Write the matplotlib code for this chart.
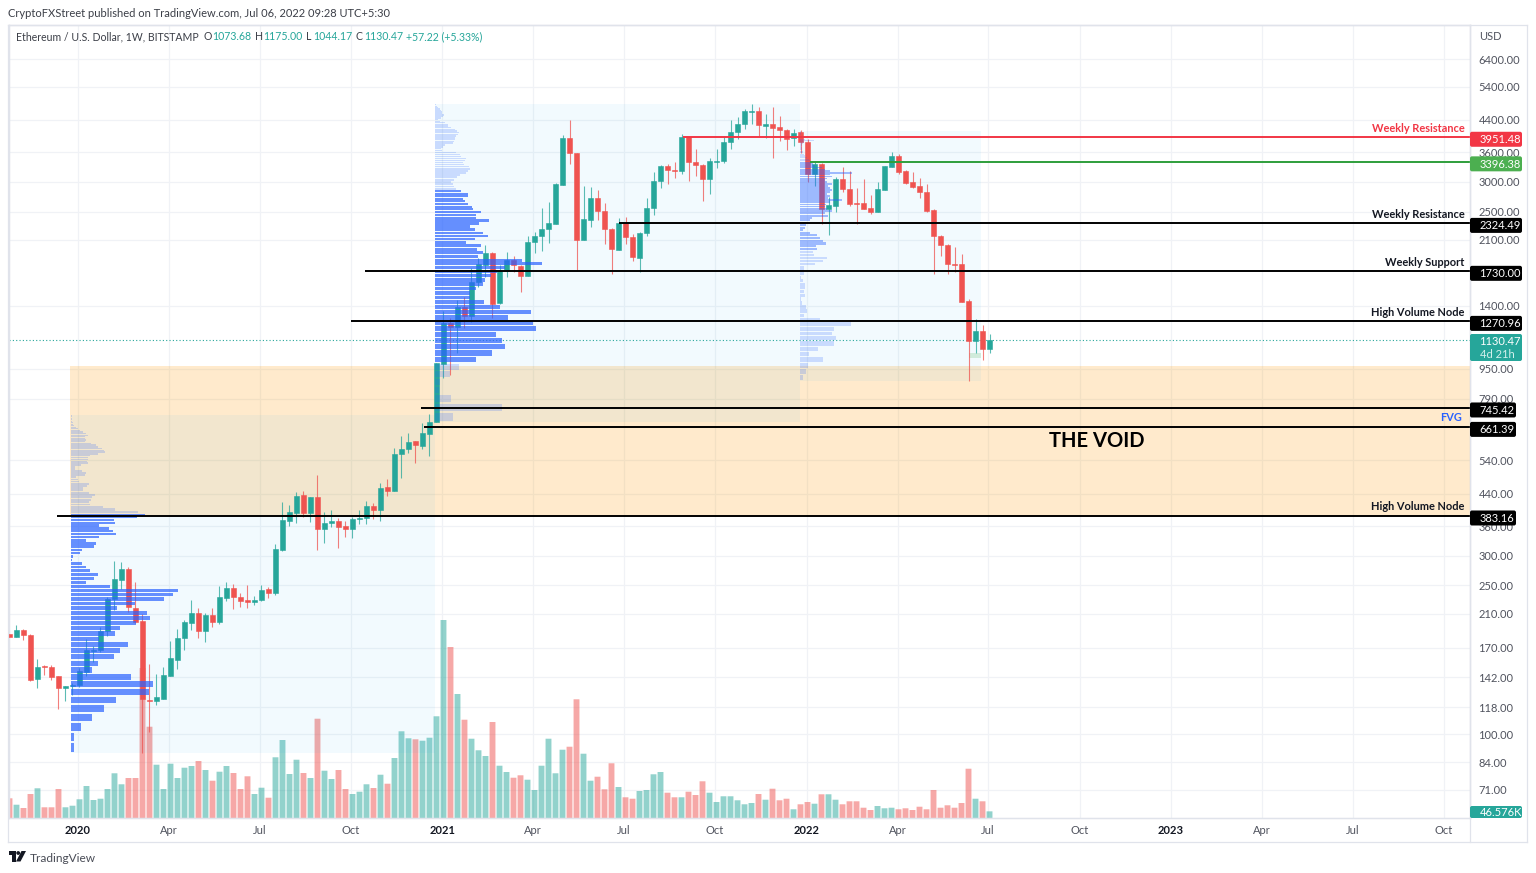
import numpy as np
import matplotlib
matplotlib.use('Agg')
import matplotlib.pyplot as plt
from matplotlib.patches import FancyBboxPatch, Rectangle, Circle, Polygon
from matplotlib.lines import Line2D
from matplotlib.ticker import NullLocator
from matplotlib.transforms import IdentityTransform

plt.rcParams['font.family'] = ['Lato', 'DejaVu Sans']

# weekly candles, ETH/USD
opens = [185,182,189.6,184.2,140.5,152.3,151.1,142.9,132.4,134.6,
         135.2,146.8,166.7,167.7,188.5,229.7,258,276,217,200.3,
         123.4,122.6,124.3,143.2,158,180.3,198.6,211,188.5,208,
         199.8,231,246,232.5,228,225.3,227.7,244,238.7,310.6,
         372.4,391,435.5,391,431,353,368,371.7,360,354,
         375,378.5,408,398,457.5,448,562,578,607,588.5,
         636,685.6,980,1261,1230,1389,1312,1621,1800,1941,
         1421,1738,1853,1783,1682,2073,2147,2243,2322,2946,
         3941,3587,2103,2375,2718,2515,2246,1979,2331,2138,
         1879,2191,2560,3020,3318,3237,3212,3950,3400,3333,
         3053,3400,3415,3833,4090,4289,4615,4650,4245,4297,
         4211,4132,3935,4075,3833,3152,3352,2540,2588,3056,
         2880,2636,2632,2555,2500,2857,3298,3522,3215,2995,
         2928,2827,2530,2155,2040,1815,1808,1439,1128,1200,
         1073.68]
highs = [185.5,195.4,190.8,185,158.4,152.9,152.7,142.9,134.6,136.6,
         149.9,179.5,172.2,193.7,232,290,288.5,279,254.5,209.3,
         153.9,144.7,151.1,177.3,190.8,202,228,217.1,211,217.1,
         248.7,254.5,251.3,238.3,250.3,233.9,250.3,247.6,321.5,418,
         409.5,445.2,447,431,492,392.8,397.5,377.8,371.7,381.6,
         397.5,421.5,414,470.7,480.7,582,627,639,608,681.4,
         719,985,1354,1294,1448,1477,1763,1876,2035,1945,
         1800,1946,1899,1800,2155,2208,2552,2653,2988,4008,
         4398,3590,2928,2905,2857,2640,2256,2410,2425,2174,
         2208,2710,3190,3333,3346,3388,4025,3955,3676,3352,
         3483,3676,3965,4398,4470,4690,4860,4755,4561,4755,
         4500,4158,4158,4132,3910,3415,3372,2740,3100,3290,
         3212,2887,3056,2770,2995,3310,3603,3558,3223,3185,
         3070,2964,2535,2160,2045,2015,1926,1462,1289,1243,
         1175]
lows = [182,181.3,178.4,138.3,132.4,143.8,139.7,116.8,122.6,127.1,
        133.8,143.2,156.1,166,182.7,214.5,244,212.3,197.9,88.8,
        101.4,119.6,124.1,143,149,167.7,189.6,180.7,176.5,193,
        197.4,226.3,215.4,218.1,217,221.2,226.3,231,235.3,309,
        361.2,368,381.6,370.3,310.6,324,357.5,314,336,334.6,
        364.3,365.7,376.7,372.4,434.4,447,483,564.4,532.3,578,
        553,683,896,914,1048.5,1221,1269,1575,1675,1300,
        1415,1675,1721,1526,1680,1938,1955,2061,2315,2940,
        3346,1738,2096,2280,2375,2048,1703,1968,2048,1848,
        1728,2155,2450,2896,2964,3070,3158,3020,3120,2665,
        2792,3278,3372,3680,3910,4165,4289,3975,3935,3477,
        3850,3654,3755,3594,2995,2928,2312,2165,2490,2827,
        2580,2312,2535,2460,2495,2853,3285,3158,2964,2887,
        2725,2500,1703,1906,1703,1728,1430,882,1045,1003,
        1044.17]
closes = [182,189.6,183.9,139.4,151.4,151.1,142.3,132.4,134.6,135.4,
          147.4,167.4,167.9,188.5,229.7,260,276,218.1,199.8,123.8,
          122.6,125.3,143.8,159.3,180.6,199.5,211,188.5,208,199.8,
          232.5,246,232.1,227.2,225.3,228,243.3,238.7,312,374,
          392.8,434.4,390,431,353,368,371.7,358.3,353,376,
          379.5,407,397.5,456.4,448,563,580,605.6,592,639,
          684.4,982,1261,1230,1389,1312,1624,1808,1941,1415,
          1735,1853,1797,1682,2077,2151,2246,2327,2960,3941,
          3580,2096,2393,2718,2510,2243,1986,2327,2134,1890,
          2195,2560,3013,3318,3231,3212,3950,3393,3325,3062,
          3415,3420,3840,4090,4289,4635,4650,4262,4289,4185,
          4124,3917,4065,3833,3158,3352,2540,2597,3056,2870,
          2615,2615,2540,2500,2870,3305,3522,3190,2982,2915,
          2822,2515,2147,2040,1811,1800,1433,1128,1200,1073,
          1130.47]
# volume, thousands of ETH
volumes = [138,93,70,168,208,75,75,203,75,86,
           131,224,126,135,203,313,236,280,280,1050,
           639,373,203,380,280,352,364,399,336,261,
           324,364,315,203,292,168,212,142,425,546,
           308,408,315,280,695,331,273,336,203,168,
           184,236,210,303,240,420,607,558,551,541,
           562,712,1386,1197,868,688,555,474,434,672,
           366,322,282,299,268,196,366,555,313,478,
           499,831,450,261,289,201,383,217,145,135,
           189,196,306,322,177,145,145,184,161,257,
           177,112,152,152,124,96,105,168,128,205,
           124,135,61,96,112,100,166,166,128,96,
           117,117,72,56,84,68,72,61,68,56,
           79,61,196,72,89,72,105,345,135,117,
           46.576]

# volume profile rows, bottom to top, equal price steps
vp_a = [3,3,10,21,33,45,78,82,60,21,27,43,49,57,28,44,49,65,79,76,
        46,64,93,102,107,39,15,23,27,19,15,11,1,2,9,11,23,25,15,28,
        45,42,38,28,44,43,66,74,67,44,32,19,18,20,21,24,18,12,12,16,
        18,8,7,5,14,15,11,4,4,10,17,16,17,17,19,27,34,33,31,27,
        25,20,14,15,14,14,17,15,12,9,7,5,3,2,2,1,1,1,1,1]
vp_b = [18,67,16,4,5,15,24,
        41,57,70,67,61,101,98,73,96,65,49,35,35,41,48,50,56,62,70,107,
        87,43,48,42,46,31,40,53,48,40,35,44,54,41,41,46,38,37,33,30,28,33,33,26,
        21,19,18,16,19,22,25,31,33,35,34,29,28,30,31,26,25,21,7,6,8,10,18,19,
        20,20,21,23,24,22,20,16,13,13,10,5,3,6,8,9,7,7,6,5,3,2,1]
vp_c = [3,6,8,23,9,18,34,36,32,34,51,20,4,7,6,2,1,5,4,5,5,3,1,4,4,4,15,23,27,14,13,
        17,16,26,23,20,17,10,3,5,6,8,10,12,
        28,25,32,27,25,26,30,42,28,30,27,30,32,30,28,32,27,25,27,32,30,52,30,25,22,15,13,12,
        10,9,7,5,4,3,3,2,2,1,2,3,4,14,5,2,1,1,1,1]
# profile range: low price, high price, first week, last week, value area rows, value area alpha
vp_ranges = [(88.8, 715, 8.8, 60.8, 0, 48, 0.7),
             (685, 4851, 60.8, 112.9, 7, 51, 0.7),
             (882, 4100, 112.9, 138.8, 31, 72, 0.42)]

void_top = 965
level_prices = [3951.48, 3396.38, 2324.49, 1730.00, 1270.96, 745.42, 661.39, 383.16]
level_labels = ['3951.48', '3396.38', '2324.49', '1730.00', '1270.96', '745.42', '661.39', '383.16']
level_starts = [96.2, 114.4, 87, 50.8, 48.8, 58.8, 59.2, 6.8]
level_colors = ['#f23645', '#2e9e3b', 'black', 'black', 'black', 'black', 'black', 'black']
tag_colors = ['#f23645', '#4caf50', 'black', 'black', 'black', 'black', 'black', 'black']

price_ticks = [6400,5400,4400,3600,3000,2500,2100,1400,950,790,540,440,360,300,250,210,170,142,118,100,84,71]
time_ticks = [9.8,22.8,35.8,48.8,61.8,74.8,87.8,100.8,113.9,126.9,139.8,152.9,165.9,178.9,191.9,204.9]
time_labels = ['2020','Apr','Jul','Oct','2021','Apr','Jul','Oct','2022','Apr','Jul','Oct','2023','Apr','Jul','Oct']

up_col = '#26a69a'
down_col = '#ef5350'
price_lo, price_hi = 59.6, 7892
W, H = 1536, 873

fig = plt.figure(figsize=(W/100, H/100), dpi=100, facecolor='white')
rect = [9/W, (H-818)/H, 1461/W, 793/H]

# volume sits under the price axes
ax_vol = fig.add_axes(rect)
ax = fig.add_axes(rect, sharex=ax_vol)
ax.patch.set_visible(False)

x = np.arange(len(closes))
o, h, l, c = map(np.array, (opens, highs, lows, closes))
up = c >= o
cols = np.where(up, up_col, down_col)

bars = ax_vol.bar(x, volumes, width=0.84, color=cols, alpha=0.5, linewidth=0, zorder=2)
for b in bars:
    b.set_snap(False)
ax_vol.set_ylim(0, 793*7)
ax_vol.set_yticks([])
ax_vol.tick_params(bottom=False, labelbottom=False)

ax.set_yscale('log')
ax.set_ylim(price_lo, price_hi)
ax.set_xlim(-0.07, 208.64)
xmax = ax.get_xlim()[1]

# shaded zones
ax.add_patch(Rectangle((8.65, 383.16), xmax-8.65, void_top-383.16, fc='#ff9800', alpha=0.2, lw=0, zorder=1))
for low, high, x0, x1, va0, va1, va_alpha in vp_ranges:
    ax.add_patch(Rectangle((x0, low), x1-x0, high-low, fc='#03a9f4', alpha=0.05, lw=0, zorder=1.5))
ax.add_patch(Rectangle((137, 1015), 1.8, 32, fc='#4caf50', alpha=0.2, lw=0, zorder=1.6))

# candles
ax.vlines(x, l, h, colors=cols, lw=0.8, alpha=0.75, zorder=3)
ax.bar(x, np.abs(c-o), bottom=np.minimum(o, c), width=0.76, color=cols,
       edgecolor=cols, linewidth=0.4, zorder=3.2)

# volume profiles
for rows, (low, high, x0, x1, va0, va1, va_alpha) in zip([vp_a, vp_b, vp_c], vp_ranges):
    rows = np.array(rows, dtype=float)
    step = (high-low)/len(rows)
    centers = low + step*(np.arange(len(rows))+0.5)
    in_va = (np.arange(len(rows)) >= va0) & (np.arange(len(rows)) < va1)
    ax.barh(centers[in_va], rows[in_va]/7.0, left=x0, height=step*0.8, color='#2962ff', alpha=va_alpha, lw=0, zorder=4)
    ax.barh(centers[~in_va], rows[~in_va]/7.0, left=x0, height=step*0.8, color='#2962ff', alpha=0.2, lw=0, zorder=4)

# level lines
for p, s, col in zip(level_prices, level_starts, level_colors):
    ax.hlines(p, s, xmax, colors=col, lw=1.4, zorder=5)
ax.axhline(closes[-1], color=up_col, lw=0.8, ls=(0, (1, 2)), zorder=2)

# axes dressing
ax.set_yticks(price_ticks)
ax.set_yticklabels(['%.2f' % t for t in price_ticks])
ax.yaxis.set_minor_locator(NullLocator())
ax.yaxis.tick_right()
ax.set_xticks(time_ticks)
ax.set_xticklabels(time_labels)
ax.tick_params(length=0, labelsize=8.0, labelcolor='#50535e')
ax.tick_params(axis='y', pad=6)
ax.tick_params(axis='x', pad=5)
for lab in ax.get_xticklabels():
    if lab.get_text().startswith('20'):
        lab.set_fontweight('bold')
        lab.set_color('#131722')
# grid goes on the lower axes so it stays behind the volume bars
for t in time_ticks:
    ax_vol.axvline(t, color='#f0f2f6', lw=0.9, zorder=0)
for t in price_ticks:
    frac = np.log(t/price_lo)/np.log(price_hi/price_lo)
    ax_vol.plot([0, 1], [frac, frac], transform=ax_vol.transAxes, color='#f0f2f6', lw=0.9, zorder=0)
for axx in (ax, ax_vol):
    for sp in axx.spines.values():
        sp.set_color('#e0e3eb')
        sp.set_linewidth(0.9)


# labels over the right end of the lines
def note(price, txt, col='#131722', dy=6.5, dx=-3.8):
    ax.annotate(txt, xy=(1, price), xycoords=ax.get_yaxis_transform(), xytext=(dx, dy),
                textcoords='offset points', ha='right', va='center', fontsize=7.9, color=col,
                fontweight='bold', zorder=6)

note(3951.48, 'Weekly Resistance', '#f23645')
note(2324.49, 'Weekly Resistance')
note(1730.00, 'Weekly Support')
note(1270.96, 'High Volume Node')
note(383.16, 'High Volume Node')
note(661.39, 'FVG', '#2962ff', dy=6.8, dx=-5.5)
fig.text(1097/W, 1-441/H, 'THE VOID', fontsize=14.5, ha='center', va='center', color='black', fontweight='bold', zorder=6)


def px_box(x0, ytop, ww, hh, col):
    fig.add_artist(FancyBboxPatch((x0, H-ytop-hh), ww, hh, boxstyle='round,pad=0,rounding_size=2',
                                  transform=IdentityTransform(), fc=col, ec='none', zorder=8))


# price tags on the axis
fig.canvas.draw()
for p, lab, col in zip(level_prices, level_labels, tag_colors):
    ydisp = ax.transData.transform((0, p))[1]
    ytop = H - ydisp - 7.5 + 2
    ww = 52 if len(lab) == 7 else 46
    px_box(1470, ytop, ww, 15, col)
    fig.text(1479.5/W, 1-(ytop+7.7)/H, lab, fontsize=8.0, color='white', va='center', ha='left', zorder=9)

px_box(1470, 334, 52, 27, up_col)
fig.text(1479.5/W, 1-341.5/H, '1130.47', fontsize=8.0, color='white', va='center', zorder=9)
fig.text(1479.5/W, 1-354/H, '4d 21h', fontsize=8.0, color='#d4f0ec', va='center', zorder=9)
px_box(1470, 806, 52, 12, up_col)
fig.text(1479.5/W, 1-812.5/H, '46.576K', fontsize=8.0, color='white', va='center', zorder=9)
fig.text(1479/W, 1-37/H, 'USD', fontsize=8.0, color='#50535e', va='center')

# header
fig.text(8/W, 1-13.5/H, 'CryptoFXStreet published on TradingView.com, Jul 06, 2022 09:28 UTC+5:30',
         fontsize=8.0, color='#3b3e47', va='center')
fig.text(16/W, 1-37/H, 'Ethereum / U.S. Dollar, 1W, BITSTAMP', fontsize=7.6, color='#3b3e47', va='center')
for xp, s, col in [(204, 'O', '#3b3e47'), (212, '1073.68', up_col), (255, 'H', '#3b3e47'), (263, '1175.00', up_col),
                   (306, 'L', '#3b3e47'), (313, '1044.17', up_col), (356, 'C', '#3b3e47'), (364, '1130.47', up_col),
                   (406, '+57.22 (+5.33%)', up_col)]:
    fig.text(xp/W, 1-37/H, s, fontsize=7.6, color=col, va='center')

# outer frame
for xs, ys in [((8, 1527), (25, 25)), ((8, 1527), (842, 842)), ((8, 8), (25, 842)),
               ((1527, 1527), (25, 842)), ((1470, 1470), (25, 842))]:
    fig.add_artist(Line2D(np.array(xs)/W, 1-np.array(ys)/H, color='#e0e3eb', lw=0.9))

# footer logo
def fx(p):
    return [(a/W, 1-b/H) for a, b in p]

logo = '#131722'
fig.add_artist(Polygon(fx([(8.5, 851), (15.5, 851), (15.5, 861.5), (12, 861.5), (12, 855), (8.5, 855)]), fc=logo, ec='none'))
fig.add_artist(Polygon(fx([(21.5, 851), (26, 851), (20.5, 861.5), (16, 861.5)]), fc=logo, ec='none'))
fig.add_artist(Circle((18.2, H-853), 1.9, transform=IdentityTransform(), fc=logo, ec='none'))
fig.text(30/W, 1-858/H, 'TradingView', fontsize=8.6, color='#4a4d57', va='center')

fig.savefig('out.png', dpi=100)
